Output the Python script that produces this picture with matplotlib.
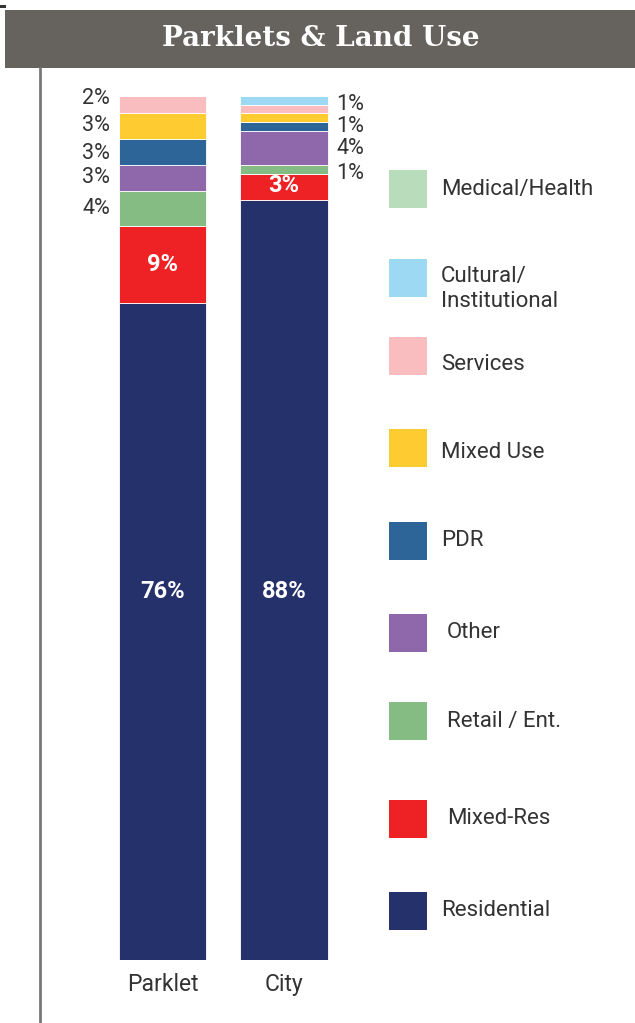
import matplotlib.pyplot as plt
from matplotlib.patches import Rectangle

# land use shares (%), stacked bottom to top
groups = ['Parklet', 'City']
segments = ['Residential', 'Mixed-Res', 'Retail / Ent.', 'Other', 'PDR',
            'Mixed Use', 'Services', 'Cultural/\nInstitutional', 'Medical/Health']
parklet_vals = [76, 9, 4, 3, 3, 3, 2, 0, 0]
city_vals = [88, 3, 1, 4, 1, 1, 1, 1, 0]
colors = ['#24316b', '#ee2124', '#84bc84', '#8f67ab', '#2e6599',
          '#fecb30', '#f9bcbf', '#9dd9f2', '#b9dcbb']

# side labels (text, y position in % of bar)
parklet_side = [('2%', 99.7), ('3%', 96.6), ('3%', 93.4), ('3%', 90.6), ('4%', 87.0)]
city_side = [('1%', 99.0), ('1%', 96.5), ('4%', 93.9), ('1%', 91.0)]

W, H = 635, 1023
fig = plt.figure(figsize=(W / 100, H / 100), dpi=100)
fig.patch.set_facecolor('white')

def fx(px):
    return px / W

def fy(py):
    return 1 - py / H

# title banner
fig.patches.append(Rectangle((fx(5), fy(68)), fx(630), 58 / H, transform=fig.transFigure,
                             facecolor='#66635f', edgecolor='none'))
fig.patches.append(Rectangle((0, fy(8)), fx(6), 3 / H, transform=fig.transFigure,
                             facecolor='#333333', edgecolor='none'))
fig.text(fx(321), fy(38), 'Parklets & Land Use', color='white', fontsize=20,
         fontweight='bold', family='DejaVu Serif', ha='center', va='center')

# left rule
fig.lines.append(plt.Line2D([fx(40), fx(40)], [0, fy(68)], transform=fig.transFigure,
                            color='#777777', linewidth=2))

# bars axes
ax = fig.add_axes([fx(100), fy(960), fx(250), 864 / H])
x = [0, 1]
width = 87 / 121.5
bottoms = [0, 0]
for i, seg in enumerate(segments):
    vals = [parklet_vals[i], city_vals[i]]
    ax.bar(x, vals, width=width, bottom=bottoms, color=colors[i],
           edgecolor='white', linewidth=0.6)
    bottoms = [bottoms[0] + vals[0], bottoms[1] + vals[1]]
ax.set_xlim(-0.514, 1.543)
ax.set_ylim(0, 100)
ax.axis('off')

lab_font = dict(family='Roboto', fontsize=16.5, color='#333333')
side_font = dict(family='Roboto', fontsize=15.5, color='#333333')
in_font = dict(family='Roboto', fontsize=17, color='white', fontweight='bold',
               ha='center', va='center')
# inside labels
ax.text(0, 42.6, '76%', **in_font)
ax.text(1, 42.6, '88%', **in_font)
ax.text(0, 80.5, '9%', **in_font)
ax.text(1, 89.6, '3%', **in_font)

for t, yv in parklet_side:
    ax.text(-0.43, yv, t, ha='right', va='center', **side_font)
for t, yv in city_side:
    ax.text(1.43, yv, t, ha='left', va='center', **side_font)

for xi, g in zip(x, groups):
    ax.text(xi, -2.8, g, ha='center', va='center', **lab_font)

# legend
leg_y = [189, 289, 365, 453, 541, 633, 721, 819, 911]
leg_order = list(range(len(segments)))[::-1]
leg_box_y = [189, 278, 356, 448, 541, 633, 721, 819, 911]
leg_text_x = [441, 441, 441, 441, 441, 447, 447, 447, 441]
for k, idx in enumerate(leg_order):
    fig.patches.append(Rectangle((fx(389), fy(leg_box_y[k] + 19)), fx(38), 38 / H,
                                 transform=fig.transFigure, facecolor=colors[idx],
                                 edgecolor='none'))
    fig.text(fx(leg_text_x[k]), fy(leg_y[k]), segments[idx], ha='left', va='center',
             family='Roboto', fontsize=16, color='#333333', linespacing=1.2)

fig.savefig('out.png', dpi=100)
